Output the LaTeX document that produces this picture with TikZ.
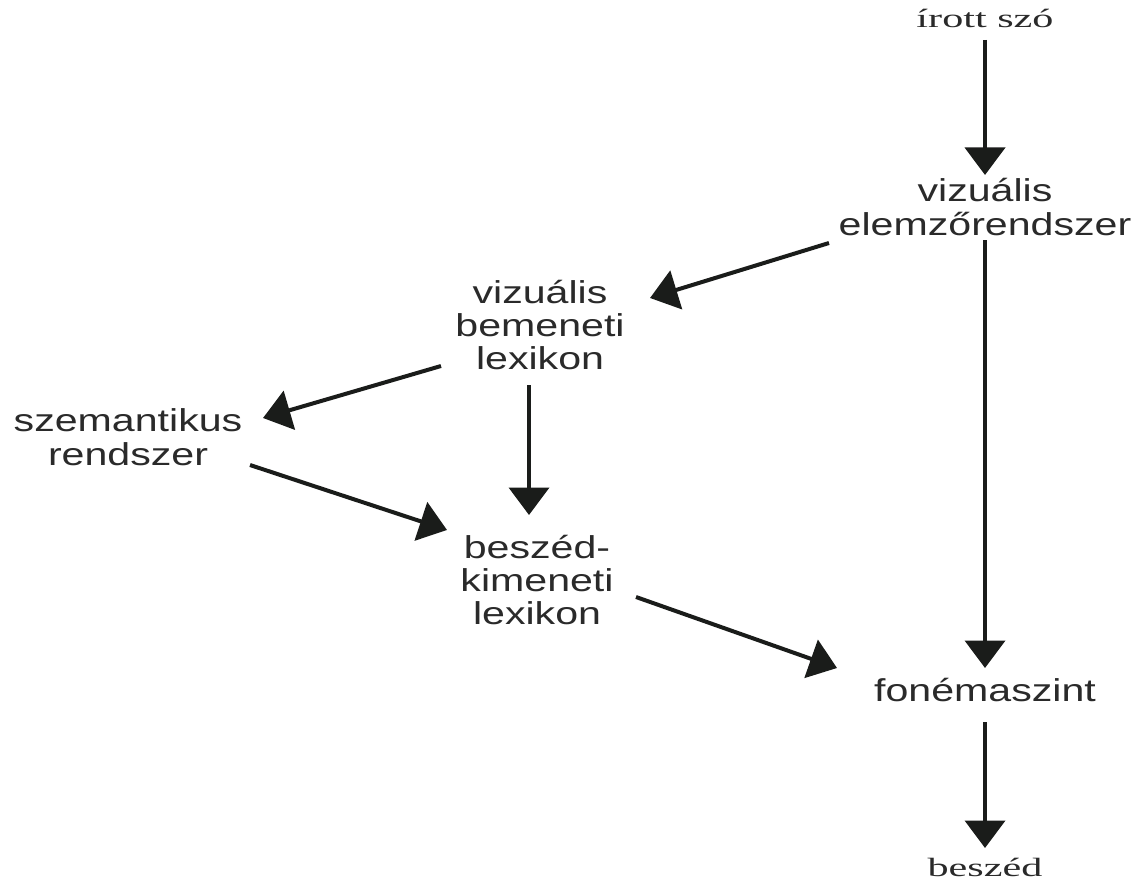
\documentclass[tikz,border=0pt]{standalone}
\usepackage{fontspec}
\usepackage{tikz}
\usetikzlibrary{arrows.meta, calc}
\newfontfamily\lblfont[FakeStretch=1.3]{Liberation Sans}
\newfontfamily\endfont[FakeStretch=1.6]{Liberation Serif}
\definecolor{lineDark}{HTML}{1A1C1A}
\definecolor{textGrey}{HTML}{2A2A2A}

\begin{document}
\begin{tikzpicture}[
    box/.style={inner sep=0pt, outer sep=0pt, align=center, text=textGrey,
                font=\lblfont\fontsize{18}{19}\selectfont},
    ends/.style={inner sep=0pt, outer sep=0pt, text=textGrey,
                 font=\endfont\fontsize{15}{16}\selectfont},
    arr/.style={draw=lineDark, line width=0.08cm,
                -{Triangle[length=0.55cm, width=0.8cm]}},
  ]
    \useasboundingbox (0,0) rectangle (22.76,-17.7);

    % Modules of the reading model
    \node[ends] (iras)    at (19.70, -0.36)  {írott szó};
    \node[box]  (vizel)   at (19.70, -4.14)  {vizuális\\elemzőrendszer};
    \node[box]  (vizlex)  at (10.80, -6.50)  {vizuális\\bemeneti\\lexikon};
    \node[box]  (szem)    at (2.56, -8.74)   {szemantikus\\rendszer};
    \node[box]  (beszlex) at (10.74, -11.60) {beszéd-\\kimeneti\\lexikon};
    \node[box]  (fonema)  at (19.70, -13.80) {fonémaszint};
    \node[ends] (beszed)  at (19.70, -17.34) {beszéd};

    % Routes
    \draw[arr] ($(iras)+(0,-0.44)$)     -- ($(vizel)+(0,0.64)$);
    \draw[arr] ($(vizel)+(-3.12,-0.72)$) -- ($(vizlex)+(2.2,0.54)$);
    \draw[arr] ($(vizel)+(0,-0.66)$)    -- ($(fonema)+(0,0.44)$);
    \draw[arr] ($(vizlex)+(-1.98,-0.82)$) -- ($(szem)+(2.7,0.38)$);
    \draw[arr] ($(vizlex)+(-0.22,-1.2)$) -- ($(beszlex)+(-0.16,1.3)$);
    \draw[arr] ($(szem)+(2.44,-0.56)$)  -- ($(beszlex)+(-1.8,1.0)$);
    \draw[arr] ($(beszlex)+(1.98,-0.34)$) -- ($(fonema)+(-2.96,0.44)$);
    \draw[arr] ($(fonema)+(0,-0.64)$)   -- ($(beszed)+(0,0.38)$);
\end{tikzpicture}
\end{document}
